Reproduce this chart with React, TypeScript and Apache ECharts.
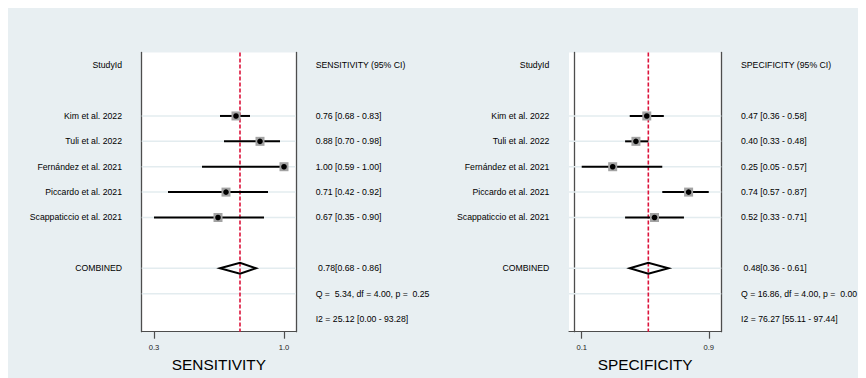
import React, { useEffect, useRef } from "react";
import * as echarts from "echarts";

// ---------- data ----------
const studies = [
  "Kim et al. 2022",
  "Tuli et al. 2022",
  "Fernández et al. 2021",
  "Piccardo et al. 2021",
  "Scappaticcio et al. 2021",
];

const sensEst = [0.76, 0.88, 1.0, 0.71, 0.67];
const sensLo = [0.68, 0.7, 0.59, 0.42, 0.35];
const sensHi = [0.83, 0.98, 1.0, 0.92, 0.9];
const sensPooled = [0.78, 0.68, 0.86]; // est, lo, hi
const sensQ = "Q =  5.34, df = 4.00, p =  0.25";
const sensI2 = "I2 = 25.12 [0.00 - 93.28]";

const specEst = [0.47, 0.4, 0.25, 0.74, 0.52];
const specLo = [0.36, 0.33, 0.05, 0.57, 0.33];
const specHi = [0.58, 0.48, 0.57, 0.87, 0.71];
const specPooled = [0.48, 0.36, 0.61];
const specQ = "Q = 16.86, df = 4.00, p =  0.00";
const specI2 = "I2 = 76.27 [55.11 - 97.44]";

const FONT = "'Liberation Sans', Arial, sans-serif";
const BOX = "#4d4d4d";

function f2(v: number) {
  return v.toFixed(2);
}

function panel(
  idx: number,
  title: string,
  header: string,
  est: number[],
  lo: number[],
  hi: number[],
  pooled: number[],
  q: string,
  i2: string,
  axMin: number,
  axMax: number,
  gridLeft: number,
  gridWidth: number
) {
  const firstStudyRow = 2;
  const combinedRow = firstStudyRow + studies.length + 1;
  const leftLabels = ["StudyId", "", ...studies, "", "COMBINED", "", ""];
  const rightLabels = [
    header,
    "",
    ...est.map((e, i) => `${f2(e)} [${f2(lo[i])} - ${f2(hi[i])}]`),
    "",
    ` ${f2(pooled[0])}[${f2(pooled[1])} - ${f2(pooled[2])}]`,
    q,
    i2,
  ];
  const tickVals = [Math.min(...lo), Math.max(...hi)];
  const gridRows = [
    ...studies.map((_, i) => firstStudyRow + i),
    combinedRow,
    combinedRow + 1,
  ];

  const grid = {
    left: gridLeft,
    top: 44.5,
    width: gridWidth,
    height: 279.2,
    show: true,
    backgroundColor: "#ffffff",
    borderWidth: 0,
  };
  const xAxis = {
    gridIndex: idx,
    type: "value",
    min: axMin,
    max: axMax,
    position: "bottom",
    axisLine: { show: true, lineStyle: { color: BOX, width: 1.2 } },
    axisTick: {
      show: true,
      customValues: tickVals,
      length: 7,
      lineStyle: { color: BOX, width: 1.2 },
    },
    axisLabel: {
      show: true,
      customValues: tickVals,
      formatter: (v: number) => v.toFixed(1),
      fontSize: 7.6,
      fontFamily: FONT,
      color: "#222",
      margin: 12,
    },
    splitLine: { show: false },
    name: title,
    nameLocation: "middle",
    nameGap: 17,
    nameTextStyle: { fontSize: 15.4, fontFamily: FONT, color: "#000" },
  };
  const yBase = {
    gridIndex: idx,
    type: "category",
    inverse: true,
    boundaryGap: true,
    axisLine: { show: true, lineStyle: { color: BOX, width: 1.3 } },
    axisTick: { show: false },
    splitLine: { show: false },
  };
  const yAxes = [
    {
      ...yBase,
      position: "left",
      data: leftLabels,
      axisLabel: {
        margin: 19.7,
        fontSize: 8.7,
        fontFamily: FONT,
        color: "#000",
        interval: 0,
      },
    },
    {
      ...yBase,
      position: "right",
      data: rightLabels,
      axisLabel: {
        margin: 19.7,
        fontSize: 8.7,
        fontFamily: FONT,
        color: "#000",
        interval: 0,
      },
    },
  ];

  const xi = idx;
  const yi = idx * 2;

  const series = [
    {
      type: "custom",
      xAxisIndex: xi,
      yAxisIndex: yi,
      z: 1,
      silent: true,
      data: gridRows.map((r) => [axMin, r]),
      encode: { x: 0, y: 1 },
      renderItem: (params: any, api: any) => {
        const cs = params.coordSys;
        const y = api.coord([axMin, api.value(1)])[1];
        return {
          type: "line",
          shape: { x1: cs.x, y1: y, x2: cs.x + cs.width, y2: y },
          style: { stroke: "#e3ecef", lineWidth: 1.5 },
        };
      },
    },
    {
      type: "custom",
      xAxisIndex: xi,
      yAxisIndex: yi,
      z: 2,
      silent: true,
      data: [[pooled[0], 0]],
      encode: { x: 0, y: 1 },
      renderItem: (params: any, api: any) => {
        const cs = params.coordSys;
        const x = api.coord([api.value(0), 0])[0];
        return {
          type: "line",
          shape: { x1: x, y1: cs.y, x2: x, y2: cs.y + cs.height },
          style: { stroke: "#dc143c", lineWidth: 1.6, lineDash: [4, 2] },
        };
      },
    },
    {
      type: "custom",
      xAxisIndex: xi,
      yAxisIndex: yi,
      z: 3,
      silent: true,
      data: est.map((e, i) => [e, lo[i], hi[i], firstStudyRow + i]),
      encode: { x: [0, 1, 2], y: 3 },
      renderItem: (params: any, api: any) => {
        const row = api.value(3);
        const pE = api.coord([api.value(0), row]);
        const pL = api.coord([api.value(1), row]);
        const pH = api.coord([api.value(2), row]);
        const s = 9;
        return {
          type: "group",
          children: [
            {
              type: "line",
              shape: { x1: pL[0], y1: pL[1], x2: pH[0], y2: pH[1] },
              style: { stroke: "#000", lineWidth: 2 },
            },
            {
              type: "rect",
              shape: { x: pE[0] - s / 2, y: pE[1] - s / 2, width: s, height: s },
              style: { fill: "#a3a3a3" },
            },
            {
              type: "circle",
              shape: { cx: pE[0], cy: pE[1], r: 2.8 },
              style: { fill: "#000" },
            },
          ],
        };
      },
    },
    {
      type: "custom",
      xAxisIndex: xi,
      yAxisIndex: yi,
      z: 3,
      silent: true,
      data: [[pooled[0], pooled[1], pooled[2], combinedRow]],
      encode: { x: [0, 1, 2], y: 3 },
      renderItem: (params: any, api: any) => {
        const row = api.value(3);
        const pE = api.coord([api.value(0), row]);
        const pL = api.coord([api.value(1), row]);
        const pH = api.coord([api.value(2), row]);
        const h = 5.5;
        return {
          type: "polygon",
          shape: {
            points: [
              [pL[0], pL[1]],
              [pE[0], pE[1] - h],
              [pH[0], pH[1]],
              [pE[0], pE[1] + h],
            ],
          },
          style: { fill: "none", stroke: "#000", lineWidth: 2 },
        };
      },
    },
  ];

  return { grid, xAxis, yAxes, series };
}

export default function App() {
  const ref = useRef<HTMLDivElement>(null);
  useEffect(() => {
    if (!ref.current) return;
    const chart = echarts.init(ref.current, undefined, { renderer: "svg" });
    const a = panel(
      0,
      "SENSITIVITY",
      "SENSITIVITY (95% CI)",
      sensEst,
      sensLo,
      sensHi,
      sensPooled,
      sensQ,
      sensI2,
      0.2885,
      1.06,
      133.7,
      154.3
    );
    const b = panel(
      1,
      "SPECIFICITY",
      "SPECIFICITY (95% CI)",
      specEst,
      specLo,
      specHi,
      specPooled,
      specQ,
      specI2,
      -0.032,
      0.951,
      561,
      152.3
    );
    chart.setOption({
      animation: false,
      backgroundColor: "#e8eff2",
      grid: [a.grid, b.grid],
      xAxis: [a.xAxis, b.xAxis],
      yAxis: [...a.yAxes, ...b.yAxes],
      series: [...a.series, ...b.series],
    } as any);
    return () => chart.dispose();
  }, []);
  return <div ref={ref} style={{ width: 858, height: 370 }} />;
}
